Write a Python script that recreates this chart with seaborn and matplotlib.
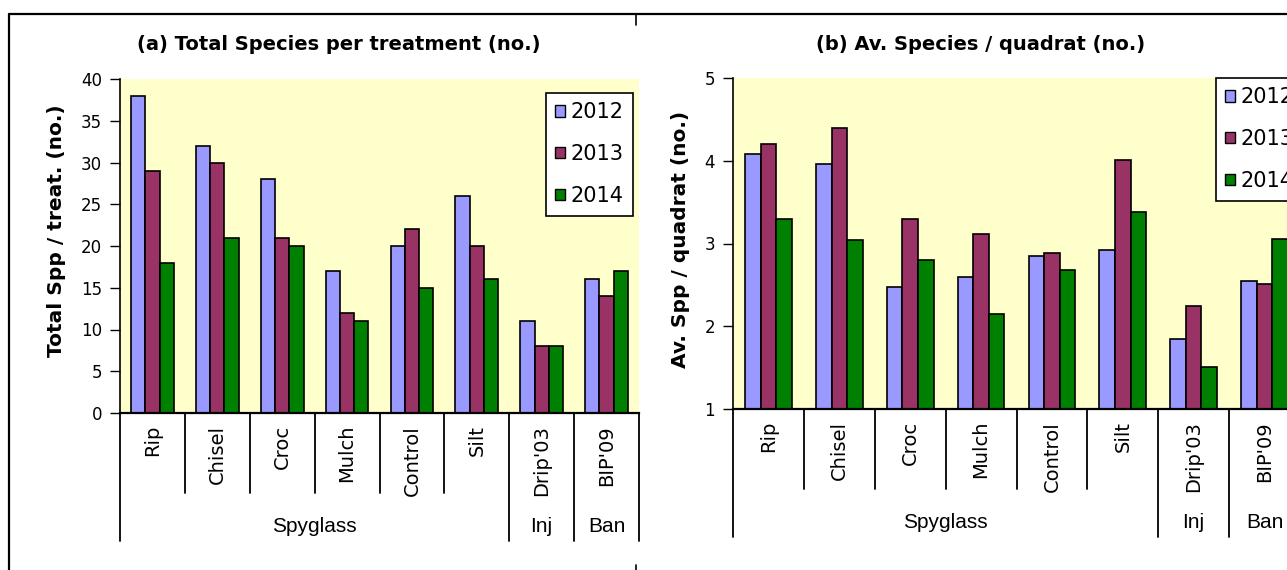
import numpy as np
import pandas as pd
import matplotlib
matplotlib.use('Agg')
import matplotlib.pyplot as plt
from matplotlib.lines import Line2D
import seaborn as sns

# data
treatments = ['Rip', 'Chisel', 'Croc', 'Mulch', 'Control', 'Silt', "Drip'03", "BIP'09"]
groups = ['Spyglass', 'Spyglass', 'Spyglass', 'Spyglass', 'Spyglass', 'Spyglass', 'Inj', 'Ban']
years = ['2012', '2013', '2014']

total_2012 = [38, 32, 28, 17, 20, 26, 11, 16]
total_2013 = [29, 30, 21, 12, 22, 20, 8, 14]
total_2014 = [18, 21, 20, 11, 15, 16, 8, 17]

avg_2012 = [4.08, 3.96, 2.48, 2.60, 2.85, 2.92, 1.85, 2.55]
avg_2013 = [4.20, 4.39, 3.30, 3.11, 2.89, 4.01, 2.24, 2.51]
avg_2014 = [3.30, 3.04, 2.80, 2.15, 2.68, 3.38, 1.51, 3.06]

year_colors = ['#9999FF', '#993366', '#008000']

def long_form(v12, v13, v14):
    rows = []
    for yr, vals in zip(years, [v12, v13, v14]):
        for t, v in zip(treatments, vals):
            rows.append({'treatment': t, 'year': yr, 'value': v})
    return pd.DataFrame(rows)

df_total = long_form(total_2012, total_2013, total_2014)
df_avg = long_form(avg_2012, avg_2013, avg_2014)

sns.set_theme(style='white')
plt.rcParams['font.family'] = ['DejaVu Sans']
plt.rcParams['text.color'] = 'black'
plt.rcParams['axes.labelcolor'] = 'black'
plt.rcParams['xtick.color'] = 'black'
plt.rcParams['ytick.color'] = 'black'

W, H = 1287, 570
fig = plt.figure(figsize=(W / 100, H / 100), dpi=100)

def px_box(x0, y_top, x1, y_bot):
    # pixel box (top-left origin) -> figure fraction rect
    return [x0 / W, 1 - y_bot / H, (x1 - x0) / W, (y_bot - y_top) / H]

ax1 = fig.add_axes(px_box(120, 79, 639, 413))
ax2 = fig.add_axes(px_box(733, 78, 1300, 409))

def draw_panel(ax, df, ylim, yticks, leg_anchor):
    sns.barplot(data=df, x='treatment', y='value', hue='year', order=treatments,
                hue_order=years, palette=year_colors, width=0.66, saturation=1,
                edgecolor='black', linewidth=1.2, ax=ax)
    ax.set_facecolor('#FFFFCC')
    ax.set_ylim(*ylim)
    ax.set_yticks(yticks)
    ax.set_xlim(-0.5, len(treatments) - 0.5)
    ax.set_xlabel('')
    ax.set_ylabel('')
    for s in ['top', 'right']:
        ax.spines[s].set_visible(False)
    ax.spines['left'].set_color('black')
    ax.spines['left'].set_linewidth(1.2)
    ax.spines['bottom'].set_color('black')
    ax.spines['bottom'].set_linewidth(1.6)
    ax.tick_params(axis='y', direction='out', length=7, width=1, color='black',
                   labelcolor='black', labelsize=12, pad=6, left=True)
    ax.tick_params(axis='x', length=0, labelbottom=False)

    # category axis drawn below the plot area
    h_px = ax.get_position().height * H
    trans = ax.get_xaxis_transform()
    for i in range(len(treatments) + 1):
        b = i - 0.5
        if i == 0 or i == len(treatments) or groups[i - 1] != groups[i]:
            depth = 128
        else:
            depth = 80
        ax.add_line(Line2D([b, b], [0, -depth / h_px], transform=trans,
                           color='black', lw=1.3, clip_on=False))
    for i, t in enumerate(treatments):
        ax.text(i, -12 / h_px, t, transform=trans, rotation=90, ha='center',
                va='top', fontsize=14, color='black', clip_on=False)
    seen = []
    for g in groups:
        if g not in seen:
            seen.append(g)
    for g in seen:
        idx = [i for i, gg in enumerate(groups) if gg == g]
        ax.text(np.mean(idx), -114 / h_px, g, transform=trans, ha='center',
                va='center', fontsize=15, family='Liberation Sans', color='black',
                clip_on=False)

    leg = ax.legend(loc='upper left', bbox_to_anchor=leg_anchor, frameon=True,
                    fancybox=False, edgecolor='black', facecolor='white',
                    framealpha=1, fontsize=15, handlelength=0.45,
                    handleheight=0.45, handletextpad=0.3, labelspacing=1.05,
                    borderpad=0.45, borderaxespad=0, title=None)
    leg.get_frame().set_linewidth(1.2)
    for txt in leg.get_texts():
        txt.set_color('black')
    for hdl in leg.legend_handles:
        hdl.set_edgecolor('black')
        hdl.set_linewidth(1.0)

draw_panel(ax1, df_total, (0, 40), range(0, 41, 5), ((546 - 120) / 519, (413 - 93) / 334))
draw_panel(ax2, df_avg, (1, 5), range(1, 6), ((1216 - 733) / 567, 1.0))

# titles and axis labels
fig.text(339 / W, 1 - 45 / H, '(a) Total Species per treatment (no.)', ha='center',
         va='center', fontsize=14, fontweight='bold')
fig.text(981 / W, 1 - 45 / H, '(b) Av. Species / quadrat (no.)', ha='center',
         va='center', fontsize=14, fontweight='bold')
fig.text(57 / W, 1 - 231 / H, 'Total Spp / treat. (no.)', rotation=90, ha='center',
         va='center', fontsize=14.5, fontweight='bold')
fig.text(681 / W, 1 - 239 / H, 'Av. Spp / quadrat (no.)', rotation=90, ha='center',
         va='center', fontsize=14.5, fontweight='bold')

# chart-area borders
fig.add_artist(Line2D([9 / W, 1], [1 - 14 / H, 1 - 14 / H], color='black', lw=1.6))
fig.add_artist(Line2D([9 / W, 9 / W], [1 - 14 / H, 0], color='black', lw=1.6))
fig.add_artist(Line2D([636 / W, 636 / W], [1 - 14 / H, 1 - 25 / H], color='black', lw=1.2))
fig.add_artist(Line2D([636 / W, 636 / W], [1 - 565 / H, 0], color='black', lw=1.2))

fig.savefig('out.png', dpi=100, facecolor='white')
